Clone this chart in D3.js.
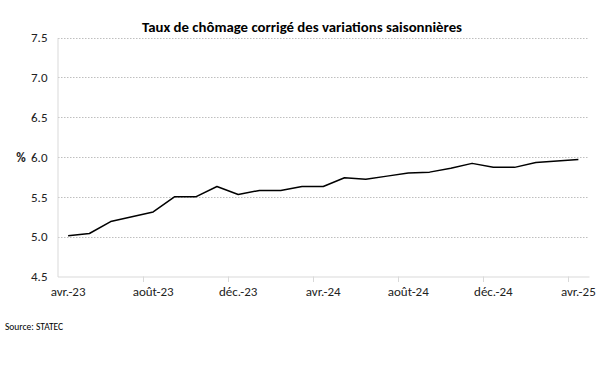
<!DOCTYPE html>
<html><head><meta charset="utf-8">
<script src="https://cdn.jsdelivr.net/npm/d3@7"></script>
<style>body{margin:0;background:#fff}svg{display:block}</style>
</head><body>
<script>
const months = ["avr.-23","mai-23","juin-23","juil.-23","août-23","sept.-23","oct.-23","nov.-23","déc.-23","janv.-24","févr.-24","mars-24","avr.-24","mai-24","juin-24","juil.-24","août-24","sept.-24","oct.-24","nov.-24","déc.-24","janv.-25","févr.-25","mars-25","avr.-25"];
const rate = [5.01,5.04,5.19,5.25,5.31,5.50,5.50,5.63,5.53,5.58,5.58,5.63,5.63,5.74,5.72,5.76,5.80,5.81,5.86,5.92,5.87,5.87,5.93,5.95,5.97];
const yTicks = [4.5,5.0,5.5,6.0,6.5,7.0,7.5];
const title = "Taux de chômage corrigé des variations saisonnières";
const source = "Source: STATEC";
const font = "Carlito, Lato, 'Liberation Sans', sans-serif";

const W=600,H=372;
const svg=d3.select("body").append("svg").attr("width",W).attr("height",H).style("font-family",font);
const x=d3.scaleBand().domain(months).range([57.5,589]).padding(0);
const y=d3.scaleLinear().domain([4.5,7.5]).range([276.5,37.5]);

// gridlines
svg.append("g").selectAll("line").data(yTicks.slice(1)).join("line")
  .attr("x1",58).attr("x2",589).attr("y1",d=>Math.round(y(d))+0.5).attr("y2",d=>Math.round(y(d))+0.5)
  .attr("stroke","#bfbfbf").attr("stroke-width",1).attr("stroke-dasharray","1.5,1.5");

// y axis
const ya=svg.append("g").attr("transform","translate(57.5,0)")
  .call(d3.axisLeft(y).tickValues(yTicks).tickFormat(d3.format(".1f")).tickSize(0).tickPadding(10));
ya.select(".domain").attr("stroke","#d9d9d9");
ya.selectAll("text").attr("font-size",13).attr("fill","#222").attr("font-family",font);

// x axis
const labelIdx = months.filter((d,i)=>i%4===0);
const xa=svg.append("g").attr("transform","translate(0,276.5)")
  .call(d3.axisBottom(x).tickValues(labelIdx).tickSize(0).tickPadding(10));
xa.select(".domain").attr("stroke","#d9d9d9");
xa.selectAll("text").attr("font-size",13).attr("fill","#222").attr("font-family",font);
xa.selectAll(".tick line").remove();
svg.append("g").selectAll("line").data(labelIdx.slice(1)).join("line")
  .attr("x1",d=>Math.round(x(d))+0.5).attr("x2",d=>Math.round(x(d))+0.5).attr("y1",276.5).attr("y2",282)
  .attr("stroke","#d9d9d9");

// line
svg.append("path").datum(rate)
  .attr("fill","none").attr("stroke","#000").attr("stroke-width",1.5).attr("stroke-linejoin","round")
  .attr("d",d3.line().x((d,i)=>x(months[i])+x.bandwidth()/2).y(d=>y(d)));

svg.append("text").attr("x",21).attr("y",161.5).attr("text-anchor","middle").attr("font-size",13).attr("font-weight","bold").attr("fill","#222").text("%");
svg.append("text").attr("x",302).attr("y",32).attr("text-anchor","middle").attr("font-size",14.8).attr("font-weight","bold").attr("fill","#000").text(title);
svg.append("text").attr("x",5).attr("y",330).attr("font-size",9.5).attr("fill","#000").text(source);
</script>
</body></html>
